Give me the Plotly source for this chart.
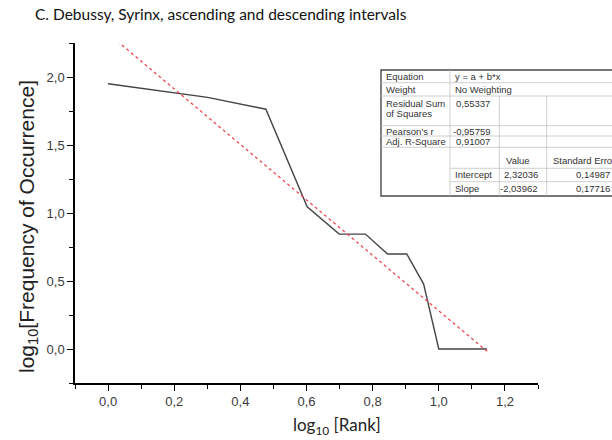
import numpy as np
import plotly.graph_objects as go

# rank / log10 frequency of occurrence
rank = np.arange(1, 15)
log_freq = [1.95, 1.85, 1.763, 1.045, 0.845, 0.845, 0.699, 0.699, 0.477, 0.0, 0.0, 0.0, 0.0, 0.0]

# linear fit y = a + b*x (values from the inset table)
intercept = 2.32036
slope = -2.03962
intercept_se = 0.14987
slope_se = 0.17716
rss = 0.55337
pearson_r = -0.95759
adj_r2 = 0.91007

log_rank = np.log10(rank)
x_fit = np.array([0, log_rank.max()])
y_fit = intercept + slope * x_fit

# plot area in pixels
PL, PR, PT, PB = 75, 538, 43, 383


def px(x):
    return (x - PL) / (PR - PL)


def py(y):
    return (PB - y) / (PB - PT)


def fmt(v):
    return f"{v:.5f}".replace(".", ",")


fig = go.Figure()
fig.add_trace(go.Scatter(x=log_rank, y=log_freq, mode="lines",
                         line=dict(color="#444444", width=1.4), showlegend=False))
fig.add_trace(go.Scatter(x=x_fit, y=y_fit, mode="lines",
                         line=dict(color="#f04850", width=1.3, dash="dot"), showlegend=False))

axis_common = dict(showline=True, linecolor="black", linewidth=1.5, showgrid=False, zeroline=False,
                   ticks="outside", ticklen=6, tickwidth=1.3, tickcolor="black", tickformat=".1f",
                   tickfont=dict(family="Liberation Sans, Arial", size=13, color="#3a3a3a"),
                   mirror=False)

fig.update_xaxes(range=[-0.1, 1.3], tick0=0, dtick=0.2,
                 minor=dict(ticks="outside", ticklen=4, tickwidth=1.2, tickcolor="black", dtick=0.1, tick0=0),
                 **axis_common)
fig.update_yaxes(range=[-0.25, 2.25], tick0=0, dtick=0.5,
                 minor=dict(ticks="outside", ticklen=4, tickwidth=1.2, tickcolor="black", dtick=0.25, tick0=0),
                 **axis_common)

# inset results table
shapes = []
tl, tr, tt, tb = 381, 640, 70, 196
shapes.append(dict(type="rect", xref="paper", yref="paper", x0=px(tl), x1=px(tr), y0=py(tb), y1=py(tt),
                   fillcolor="white", line=dict(color="#4a4a4a", width=1.4), layer="above"))
inner = dict(color="#c4c4c4", width=0.8)
for yy in [82.7, 96, 125.7, 136, 147.3]:
    shapes.append(dict(type="line", xref="paper", yref="paper", x0=px(tl), x1=px(tr), y0=py(yy), y1=py(yy), line=inner))
for yy in [168.3, 181.7]:
    shapes.append(dict(type="line", xref="paper", yref="paper", x0=px(450), x1=px(tr), y0=py(yy), y1=py(yy), line=inner))
shapes.append(dict(type="line", xref="paper", yref="paper", x0=px(450), x1=px(450), y0=py(tt), y1=py(tb), line=inner))
for xx in [499.3, 546.7]:
    shapes.append(dict(type="line", xref="paper", yref="paper", x0=px(xx), x1=px(xx), y0=py(96), y1=py(tb), line=inner))

cells = [
    ("Equation", 384, 76.5, "left"),
    ("Weight", 384, 89.5, "left"),
    ("Residual Sum", 384, 103, "left"),
    ("of Squares", 384, 113.5, "left"),
    ("Pearson's r", 384, 131, "left"),
    ("Adj. R-Square", 384, 141.7, "left"),
    ("y = a + b*x", 453, 76.5, "left"),
    ("No Weighting", 453, 89.5, "left"),
    (fmt(rss), 454, 103, "left"),
    (fmt(pearson_r), 451, 131, "left"),
    (fmt(adj_r2), 454, 141.7, "left"),
    ("Value", 504, 160, "left"),
    ("Standard Error", 551, 160, "left"),
    ("Intercept", 453, 175, "left"),
    ("Slope", 453, 188.3, "left"),
    (fmt(intercept), 540, 175, "right"),
    (fmt(slope), 540, 188.3, "right"),
    (fmt(intercept_se), 612, 175, "right"),
    (fmt(slope_se), 612, 188.3, "right"),
]
annotations = []
for text, x, y, anchor in cells:
    annotations.append(dict(text=text, xref="paper", yref="paper", x=px(x), y=py(y), xanchor=anchor,
                            yanchor="middle", showarrow=False,
                            font=dict(family="Liberation Sans, Arial", size=9.5, color="#333")))

# axis titles
annotations.append(dict(text="log<sub>10</sub>[Frequency of Occurrence]", xref="paper", yref="paper",
                        x=px(28), y=py(227), textangle=-90, showarrow=False, xanchor="center", yanchor="middle",
                        font=dict(family="Liberation Sans, Arial", size=21, color="#222")))
annotations.append(dict(text="log<sub>10</sub> [Rank]", xref="paper", yref="paper",
                        x=px(337), y=py(426), showarrow=False, xanchor="center", yanchor="middle",
                        font=dict(family="Lato", size=17, color="#222")))

fig.update_layout(
    width=612, height=440,
    margin=dict(l=PL, r=612 - PR, t=PT, b=440 - PB),
    paper_bgcolor="white", plot_bgcolor="white",
    separators=",.",
    title=dict(text="C. Debussy, Syrinx, ascending and descending intervals",
               x=35 / 612, xanchor="left", y=1 - 15 / 440, yanchor="middle",
               font=dict(family="Lato", size=15.5, color="#111")),
    shapes=shapes, annotations=annotations,
)

# page body has a default 8px margin; drop it so the figure sits at the window corner
fig.write_html("out.html", config={"displayModeBar": False},
               post_script="document.body.style.margin='0px';")
